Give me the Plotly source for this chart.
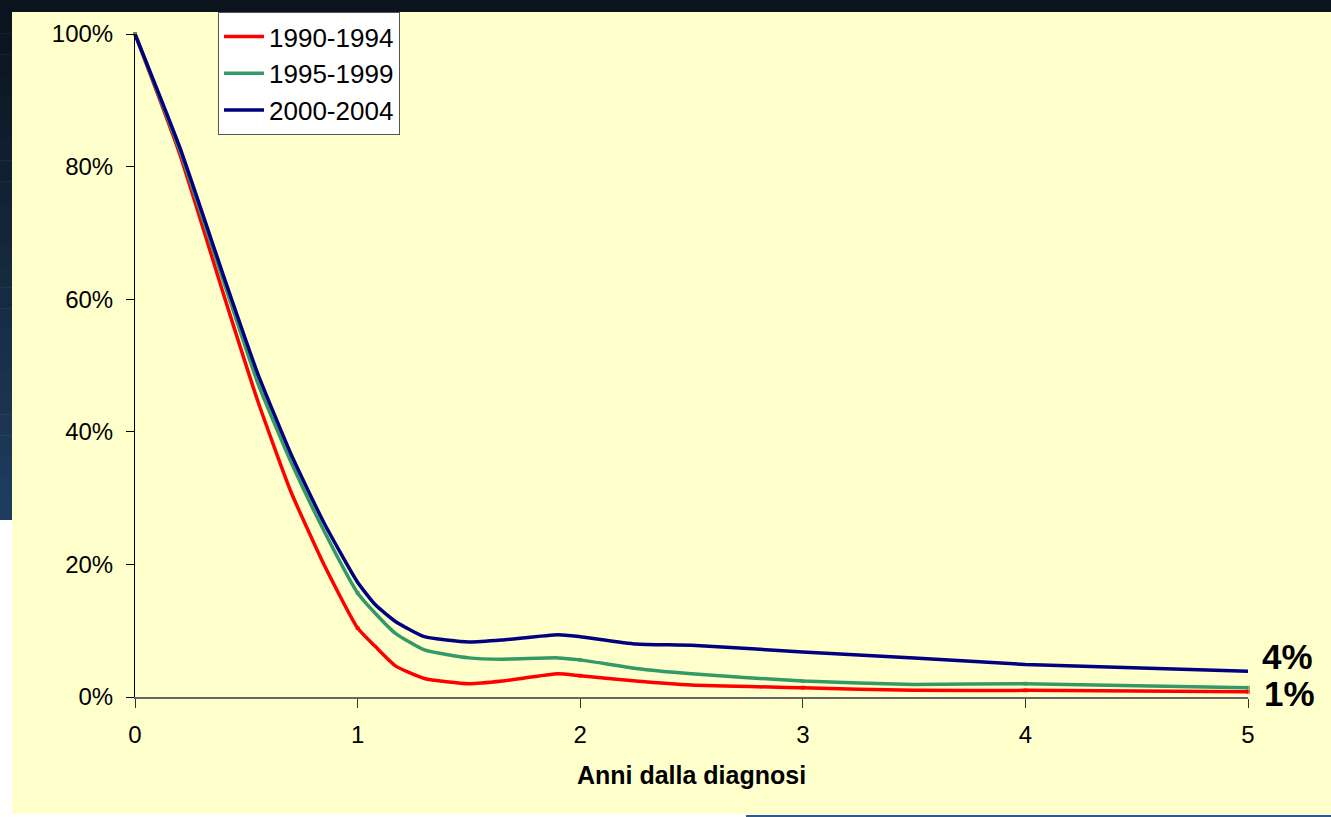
import plotly.graph_objects as go

# years since diagnosis and survival (%) per diagnosis period
years = [0, 0.2, 0.4, 0.55, 0.7, 0.85, 1.0, 1.08, 1.17, 1.3, 1.5, 1.65, 1.9, 2.0, 2.25, 2.5, 3.0, 3.5, 4.0, 5.0]
surv_1990 = [100, 82, 60.5, 44.8, 31.0, 19.9, 10.4, 7.6, 4.7, 2.8, 2.0, 2.4, 3.5, 3.2, 2.4, 1.8, 1.4, 1.0, 1.0, 0.8]
surv_1995 = [100, 82.5, 62.5, 47.5, 35.5, 25.0, 15.7, 12.6, 9.6, 7.1, 5.9, 5.7, 5.9, 5.6, 4.3, 3.5, 2.4, 1.9, 2.0, 1.4]
surv_2000 = [100, 83, 63.3, 48.9, 36.7, 26.2, 17.3, 13.9, 11.4, 9.1, 8.3, 8.6, 9.4, 9.1, 8.0, 7.8, 6.8, 5.9, 4.9, 3.9]

y_ticks = [0, 20, 40, 60, 80, 100]
y_labels = ["0%", "20%", "40%", "60%", "80%", "100%"]

series = [
    ("1990-1994", surv_1990, "#FF0000", True),
    ("1995-1999", surv_1995, "#339966", True),
    ("2000-2004", surv_2000, "#000080", False),
]

W, H = 1331, 817
L, R, T, B = 135, 83, 34, 120
pw, ph = W - L - R, H - T - B


def px_x(px):
    return (px - L) / pw


def px_y(py):
    return (H - B - py) / ph


FONT = "Liberation Sans, Arial, sans-serif"

fig = go.Figure()

for name, vals, color, marks in series:
    sizes = [4 if (marks and float(x).is_integer()) else 0 for x in years]
    fig.add_trace(go.Scatter(
        x=years, y=vals, name=name,
        mode="lines+markers",
        line=dict(color=color, width=3.5, shape="spline", smoothing=0.5),
        marker=dict(symbol="square", size=sizes, color=color,
                    line=dict(width=0)),
        cliponaxis=False,
    ))

# end-of-curve labels, taken from the 5-year values
fig.add_annotation(x=years[-1], y=surv_2000[-1], xref="x", yref="y",
                   text=f"<b>{round(surv_2000[-1])}%</b>", showarrow=False,
                   xanchor="left", yanchor="middle", xshift=12, yshift=15,
                   font=dict(family=FONT, size=35, color="black"))
fig.add_annotation(x=years[-1], y=surv_1990[-1], xref="x", yref="y",
                   text=f"<b>{round(surv_1990[-1])}%</b>", showarrow=False,
                   xanchor="left", yanchor="middle", xshift=14, yshift=-2,
                   font=dict(family=FONT, size=35, color="black"))

# slide background: dark top band, gradient left band, white bits
shapes = []
shapes.append(dict(type="rect", xref="paper", yref="paper", layer="above",
                   x0=px_x(0), x1=px_x(W), y0=px_y(12), y1=px_y(0),
                   fillcolor="#0B131D", line_width=0))
top_c, bot_c = (11, 19, 29), (31, 62, 96)
n = 24
for i in range(n):
    y0, y1 = 12 + i * (508 / n), 12 + (i + 1) * (508 / n)
    t = (i + 0.5) / n
    c = tuple(int(top_c[k] + (bot_c[k] - top_c[k]) * t) for k in range(3))
    shapes.append(dict(type="rect", xref="paper", yref="paper", layer="above",
                       x0=px_x(0), x1=px_x(12), y0=px_y(y1 + 0.5), y1=px_y(y0),
                       fillcolor="rgb(%d,%d,%d)" % c, line_width=0))
shapes.append(dict(type="rect", xref="paper", yref="paper", layer="above",
                   x0=px_x(0), x1=px_x(12), y0=px_y(H), y1=px_y(520),
                   fillcolor="white", line_width=0))
shapes.append(dict(type="rect", xref="paper", yref="paper", layer="above",
                   x0=px_x(0), x1=px_x(W), y0=px_y(H), y1=px_y(814),
                   fillcolor="white", line_width=0))
shapes.append(dict(type="rect", xref="paper", yref="paper", layer="above",
                   x0=px_x(746), x1=px_x(W), y0=px_y(H), y1=px_y(815),
                   fillcolor="#2E5A8A", line_width=0))

fig.update_layout(
    width=W, height=H,
    margin=dict(l=L, r=R, t=T, b=B, pad=0),
    paper_bgcolor="#FFFFCC",
    plot_bgcolor="#FFFFCC",
    font=dict(family=FONT, color="black"),
    shapes=shapes,
    legend=dict(
        x=px_x(218), y=px_y(12), xanchor="left", yanchor="top",
        bgcolor="white", bordercolor="#555555", borderwidth=1,
        font=dict(family=FONT, size=26, color="black"),
        tracegroupgap=0, itemwidth=40,
    ),
    showlegend=True,
)

fig.update_xaxes(
    range=[0, 5], dtick=1, tick0=0,
    showgrid=False, zeroline=False,
    showline=True, linecolor="#666666", linewidth=1.5,
    ticks="outside", ticklen=9, tickcolor="#333333",
    tickfont=dict(size=24),
    ticklabelstandoff=6,
    title=dict(text="<b>Anni dalla diagnosi</b>", font=dict(size=25), standoff=20),
)
fig.update_yaxes(
    range=[0, 100], tickvals=y_ticks, ticktext=y_labels,
    showgrid=False, zeroline=False,
    showline=True, linecolor="black", linewidth=1,
    ticks="outside", ticklen=8, tickcolor="black",
    tickfont=dict(size=24),
    ticklabelstandoff=8,
)

fig.write_html("out.html", config={"displayModeBar": False},
               post_script="document.body.style.margin='0';")
